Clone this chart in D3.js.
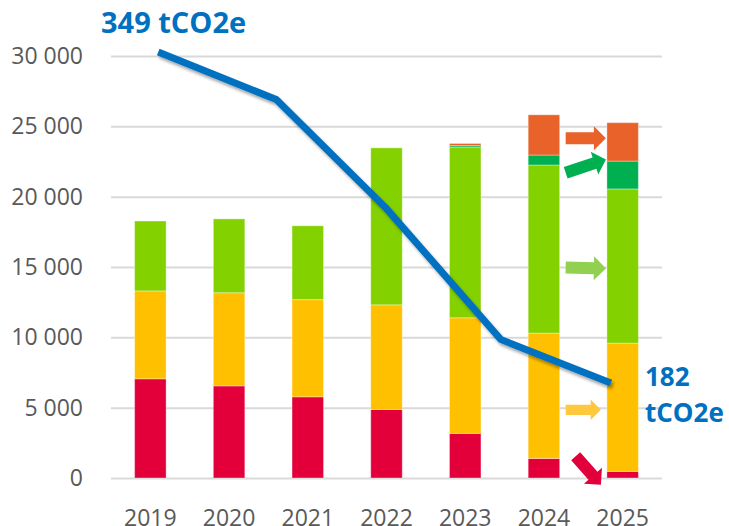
<!DOCTYPE html>
<html>
<head>
<meta charset="utf-8">
<script src="https://cdn.jsdelivr.net/npm/d3@7"></script>
<style>
  html, body { margin: 0; padding: 0; background: #fff; }
  svg { display: block; font-family: "Open Sans", sans-serif; }
  .grid line { stroke: #d9d9d9; stroke-width: 2; }
  .grid path, .xaxis path { display: none; }
  .tick text { fill: #595959; font-size: 23px; font-family: "Open Sans", sans-serif; }
  .callout { fill: #0070c0; font-weight: bold; font-size: 26px; }
  .callout.big { font-size: 29px; }
</style>
</head>
<body>
<svg id="chart" width="729" height="526"></svg>
<script>
// categories
var years = ["2019", "2020", "2021", "2022", "2023", "2024", "2025"];

// stacked series (bottom to top)
var redValues = [7050, 6550, 5770, 4870, 3170, 1390, 470];
var yellowValues = [6250, 6620, 6910, 7440, 8220, 8910, 9120];
var lightGreenValues = [4970, 5250, 5250, 11160, 12140, 11950, 10960];
var darkGreenValues = [0, 0, 0, 0, 100, 710, 1980];
var orangeValues = [0, 0, 0, 0, 150, 2860, 2730];

var seriesNames = ["red", "yellow", "lightGreen", "darkGreen", "orange"];
var seriesColors = ["#e3003a", "#ffc000", "#84d100", "#00b050", "#e8622a"];

var yTicks = [0, 5000, 10000, 15000, 20000, 25000, 30000];

// total emissions line (tCO2e), placed on fractional year positions
var lineYears = [2019.1, 2020.6, 2022.0, 2023.45, 2024.85];
var lineValues = [349, 325, 270, 204, 182];
var lineLabels = ["349 tCO2e", "182", "tCO2e"];

// change arrows between 2024 and 2025: from/to in chart units
var arrowFrom = [24150, 21700, 14960, 4850, 1550];
var arrowTo = [24150, 22650, 14900, 4850, -480];
var arrowColors = ["#e8622a", "#00b050", "#92d050", "#ffc83d", "#e2003c"];
var arrowSizes = [1, 1, 1, 0.85, 1];

var svg = d3.select("#chart");
var plotLeft = 111, plotRight = 662, plotTop = 56, plotBottom = 478;

var x = d3.scaleBand().domain(years).range([plotLeft, plotRight])
  .paddingInner(0.6).paddingOuter(0.3);
var y = d3.scaleLinear().domain([0, 30000]).range([plotBottom, plotTop]);

var xYear = d3.scaleLinear().domain([2019, 2025])
  .range([x("2019") + x.bandwidth() / 2, x("2025") + x.bandwidth() / 2]);
var yLine = d3.scaleLinear().domain([182, 349]).range([383, 52]);

var fmt = d3.formatLocale({decimal: ",", thousands: " ", grouping: [3], currency: ["", ""]}).format(",d");

// grid + y labels
svg.append("g").attr("class", "grid")
  .attr("transform", "translate(" + plotLeft + ",0)")
  .call(d3.axisLeft(y).tickValues(yTicks).tickFormat(fmt)
    .tickSize(-(plotRight - plotLeft)).tickPadding(28));

// x labels
svg.append("g").attr("class", "xaxis")
  .attr("transform", "translate(0," + plotBottom + ")")
  .call(d3.axisBottom(x).tickSize(0).tickPadding(32));

// stacked bars
var rows = years.map(function(yr, i) {
  return {year: yr, red: redValues[i], yellow: yellowValues[i],
    lightGreen: lightGreenValues[i], darkGreen: darkGreenValues[i], orange: orangeValues[i]};
});
var stacked = d3.stack().keys(seriesNames)(rows);

svg.append("g").selectAll("g")
  .data(stacked)
  .join("g")
  .attr("fill", function(d, i) { return seriesColors[i]; })
  .selectAll("rect")
  .data(function(d) { return d.filter(function(p) { return p[1] > p[0]; }); })
  .join("rect")
  .attr("x", function(d) { return x(d.data.year); })
  .attr("y", function(d) { return y(d[1]); })
  .attr("width", x.bandwidth())
  .attr("height", function(d) { return y(d[0]) - y(d[1]); })
  .attr("stroke", "rgba(255,255,255,0.35)")
  .attr("stroke-width", 1);

// arrows
var arrowX0 = x("2024") + x.bandwidth() + 6;
var arrowX1 = x("2025") - 1;
var arrowShape = function(len, s) {
  var bh = 6 * s, hh = 12 * s, hl = 12 * s;
  return "M0," + (-bh) + "L" + (len - hl) + "," + (-bh) + "L" + (len - hl) + "," + (-hh) +
    "L" + len + ",0L" + (len - hl) + "," + hh + "L" + (len - hl) + "," + bh + "L0," + bh + "Z";
};
var arrowStart = function(i) { return arrowX0 + (i == 4 ? 10 : 0); };
var arrowEnd = function(i) { return arrowX1 - (i >= 3 ? 5 : 0); };
svg.append("g").selectAll("path")
  .data(arrowFrom)
  .join("path")
  .attr("fill", function(d, i) { return arrowColors[i]; })
  .attr("d", function(d, i) {
    var dx = arrowEnd(i) - arrowStart(i), dy = y(arrowTo[i]) - y(d);
    return arrowShape(Math.sqrt(dx * dx + dy * dy), arrowSizes[i]);
  })
  .attr("transform", function(d, i) {
    var ang = Math.atan2(y(arrowTo[i]) - y(d), arrowEnd(i) - arrowStart(i)) * 180 / Math.PI;
    return "translate(" + arrowStart(i) + "," + y(d) + ") rotate(" + ang + ")";
  });

// line with shadow
var defs = svg.append("defs");
defs.append("filter").attr("id", "shadow")
  .attr("x", "-10%").attr("y", "-10%").attr("width", "130%").attr("height", "130%")
  .append("feDropShadow")
  .attr("dx", 2).attr("dy", 3).attr("stdDeviation", 1.5)
  .attr("flood-color", "#000").attr("flood-opacity", 0.35);

var line = d3.line()
  .x(function(d, i) { return xYear(lineYears[i]); })
  .y(function(d) { return yLine(d); });

svg.append("path")
  .datum(lineValues)
  .attr("d", line)
  .attr("fill", "none")
  .attr("stroke", "#0070c0")
  .attr("stroke-width", 7)
  .attr("stroke-linejoin", "miter")
  .attr("filter", "url(#shadow)");

// callouts
svg.append("text").attr("class", "callout big")
  .attr("x", 101).attr("y", 33).text(lineLabels[0]);
svg.append("text").attr("class", "callout")
  .attr("x", 645).attr("y", 386).text(lineLabels[1]);
svg.append("text").attr("class", "callout")
  .attr("x", 645).attr("y", 422).text(lineLabels[2]);
</script>
</body>
</html>
